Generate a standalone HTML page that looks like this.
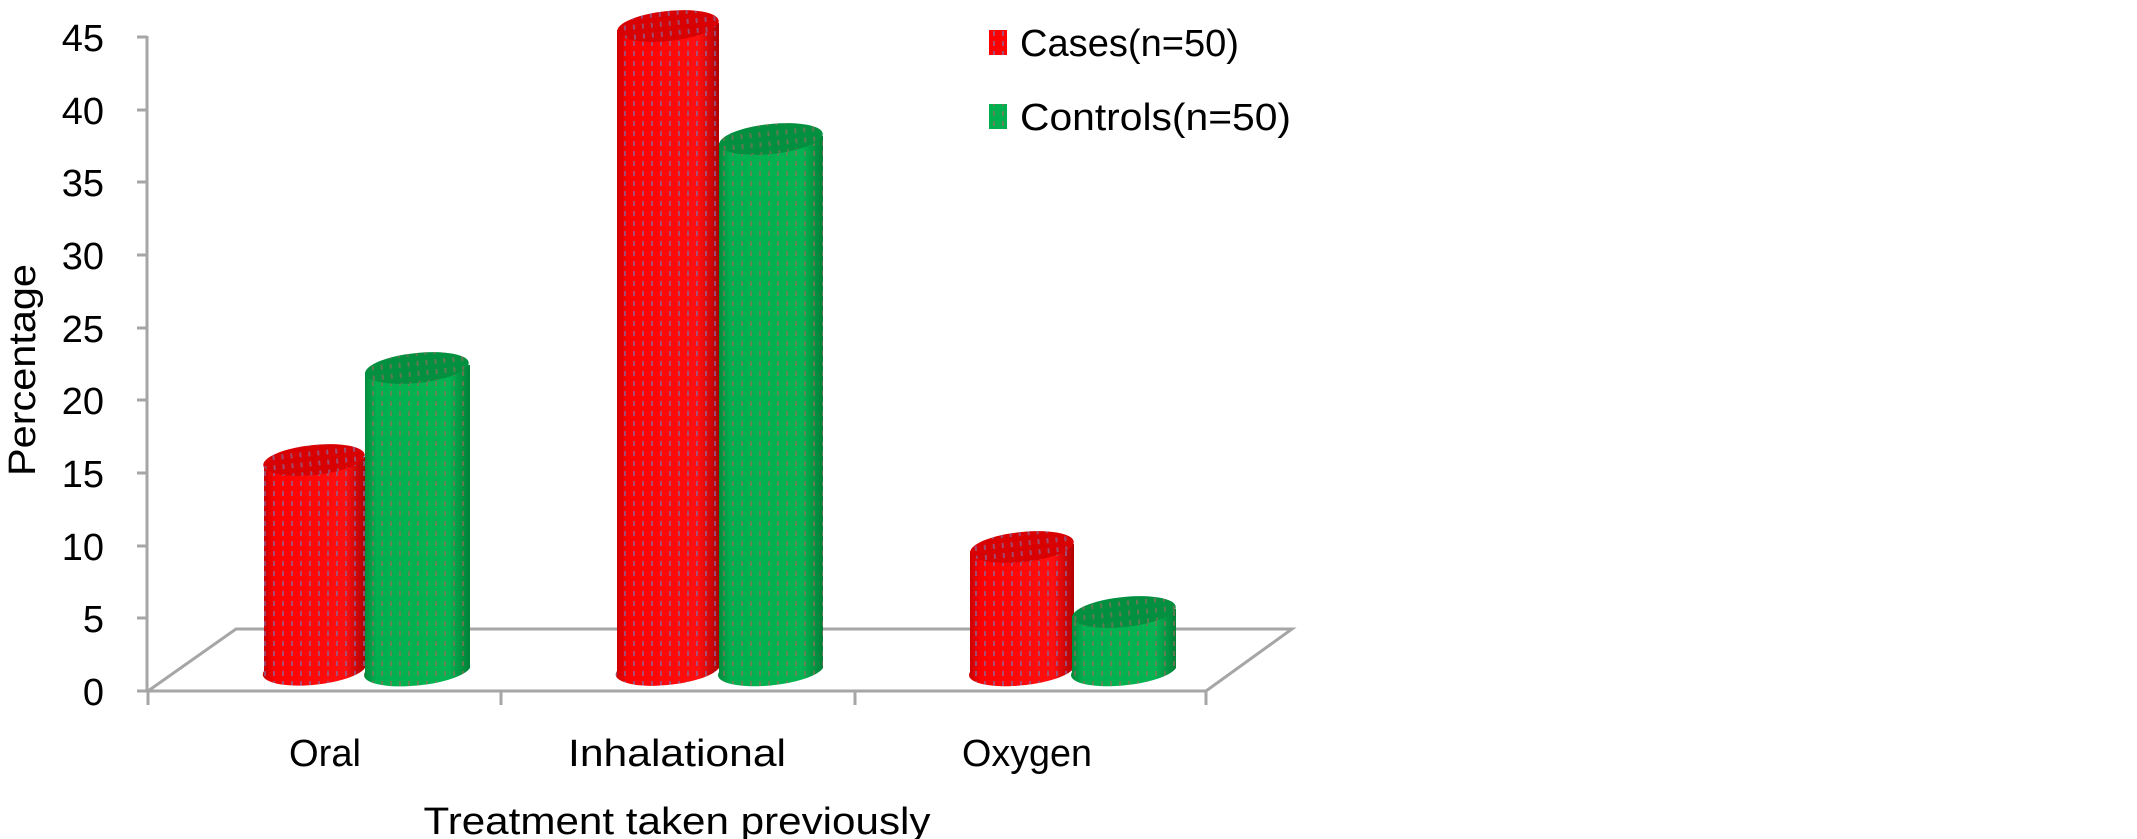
<!DOCTYPE html>
<html><head><meta charset="utf-8"><style>body{margin:0;background:#fff}svg{display:block}</style></head>
<body>
<svg width="2137" height="839" viewBox="0 0 2137 839" xmlns="http://www.w3.org/2000/svg" font-family="Liberation Sans, sans-serif">
<defs>
<linearGradient id="rg" x1="0" x2="1"><stop offset="0" stop-color="#c80000"/><stop offset="0.12" stop-color="#f00"/><stop offset="0.8" stop-color="#ff1010"/><stop offset="1" stop-color="#b00000"/></linearGradient>
<linearGradient id="gg" x1="0" x2="1"><stop offset="0" stop-color="#008a3a"/><stop offset="0.12" stop-color="#00b050"/><stop offset="0.8" stop-color="#04b452"/><stop offset="1" stop-color="#008038"/></linearGradient>
<pattern id="rp" width="9" height="10" patternUnits="userSpaceOnUse"><rect x="3" y="1" width="2" height="5" fill="#8a6aa0" opacity="0.7"/></pattern>
<pattern id="gp" width="9" height="10" patternUnits="userSpaceOnUse"><rect x="3" y="1" width="2" height="5" fill="#a06a5a" opacity="0.6"/></pattern>
</defs>
<polygon points="148,691 236,629 1292,629 1206,691" fill="#fff" stroke="#a6a6a6" stroke-width="3"/>
<line x1="147" y1="36" x2="147" y2="692" stroke="#a6a6a6" stroke-width="3"/>
<g stroke="#a6a6a6" stroke-width="3">
<line x1="137" y1="37" x2="147" y2="37"/><line x1="137" y1="110" x2="147" y2="110"/><line x1="137" y1="182" x2="147" y2="182"/><line x1="137" y1="255" x2="147" y2="255"/><line x1="137" y1="328" x2="147" y2="328"/><line x1="137" y1="400" x2="147" y2="400"/><line x1="137" y1="473" x2="147" y2="473"/><line x1="137" y1="546" x2="147" y2="546"/><line x1="137" y1="618" x2="147" y2="618"/><line x1="137" y1="691" x2="147" y2="691"/>
<line x1="148" y1="691" x2="148" y2="705"/><line x1="501" y1="691" x2="501" y2="705"/><line x1="855" y1="691" x2="855" y2="705"/><line x1="1206" y1="691" x2="1206" y2="705"/>
</g>
<g font-size="38" text-anchor="end" fill="#000">
<text x="104" y="51">45</text><text x="104" y="124">40</text><text x="104" y="196">35</text><text x="104" y="269">30</text><text x="104" y="342">25</text><text x="104" y="414">20</text><text x="104" y="487">15</text><text x="104" y="560">10</text><text x="104" y="632">5</text><text x="104" y="705">0</text>
</g>
<text transform="translate(35,370) rotate(-90)" font-size="38" text-anchor="middle" textLength="212" lengthAdjust="spacingAndGlyphs">Percentage</text>
<g font-size="38" text-anchor="middle">
<text x="325" y="766" textLength="72" lengthAdjust="spacingAndGlyphs">Oral</text>
<text x="677" y="766" textLength="218" lengthAdjust="spacingAndGlyphs">Inhalational</text>
<text x="1027" y="766" textLength="130" lengthAdjust="spacingAndGlyphs">Oxygen</text>
<text x="677" y="834" textLength="507" lengthAdjust="spacingAndGlyphs">Treatment taken previously</text>
</g>
<g>
<path d="M264,463 L264,671 A51,15 -6 0 0 365,668 L365,457 Z" fill="url(#rg)"/><path d="M264,463 L264,671 A51,15 -6 0 0 365,668 L365,457 Z" fill="url(#rp)"/>
<ellipse cx="314" cy="460" rx="51" ry="15" transform="rotate(-6 314 460)" fill="#d80000"/><ellipse cx="314" cy="460" rx="51" ry="15" transform="rotate(-6 314 460)" fill="url(#rp)"/>
<path d="M365,372 L365,672 A52,15 -6 0 0 470,668 L470,365 Z" fill="url(#gg)"/><path d="M365,372 L365,672 A52,15 -6 0 0 470,668 L470,365 Z" fill="url(#gp)"/>
<ellipse cx="417" cy="368" rx="52" ry="15" transform="rotate(-6 417 368)" fill="#009040"/><ellipse cx="417" cy="368" rx="52" ry="15" transform="rotate(-6 417 368)" fill="url(#gp)"/>
<path d="M617,30 L617,671 A51,15 -6 0 0 719,668 L719,23 Z" fill="url(#rg)"/><path d="M617,30 L617,671 A51,15 -6 0 0 719,668 L719,23 Z" fill="url(#rp)"/>
<ellipse cx="668" cy="26" rx="51" ry="15" transform="rotate(-6 668 26)" fill="#d80000"/><ellipse cx="668" cy="26" rx="51" ry="15" transform="rotate(-6 668 26)" fill="url(#rp)"/>
<path d="M719,143 L719,672 A52,15 -6 0 0 823,668 L823,136 Z" fill="url(#gg)"/><path d="M719,143 L719,672 A52,15 -6 0 0 823,668 L823,136 Z" fill="url(#gp)"/>
<ellipse cx="771" cy="139" rx="52" ry="15" transform="rotate(-6 771 139)" fill="#009040"/><ellipse cx="771" cy="139" rx="52" ry="15" transform="rotate(-6 771 139)" fill="url(#gp)"/>
<path d="M970,551 L970,672 A52,15 -6 0 0 1074,668 L1074,544 Z" fill="url(#rg)"/><path d="M970,551 L970,672 A52,15 -6 0 0 1074,668 L1074,544 Z" fill="url(#rp)"/>
<ellipse cx="1022" cy="547" rx="52" ry="15" transform="rotate(-6 1022 547)" fill="#d80000"/><ellipse cx="1022" cy="547" rx="52" ry="15" transform="rotate(-6 1022 547)" fill="url(#rp)"/>
<path d="M1072,616 L1072,672 A52,15 -6 0 0 1176,668 L1176,609 Z" fill="url(#gg)"/><path d="M1072,616 L1072,672 A52,15 -6 0 0 1176,668 L1176,609 Z" fill="url(#gp)"/>
<ellipse cx="1124" cy="612" rx="52" ry="15" transform="rotate(-6 1124 612)" fill="#009040"/><ellipse cx="1124" cy="612" rx="52" ry="15" transform="rotate(-6 1124 612)" fill="url(#gp)"/>
</g>
<rect x="989" y="30" width="18" height="25" fill="#f00"/><rect x="989" y="30" width="18" height="25" fill="url(#rp)"/>
<rect x="989" y="104" width="18" height="25" fill="#00b050"/><rect x="989" y="104" width="18" height="25" fill="url(#gp)"/>
<g font-size="38">
<text x="1020" y="56" textLength="219" lengthAdjust="spacingAndGlyphs">Cases(n=50)</text>
<text x="1020" y="130" textLength="271" lengthAdjust="spacingAndGlyphs">Controls(n=50)</text>
</g>
</svg>
</body></html>
